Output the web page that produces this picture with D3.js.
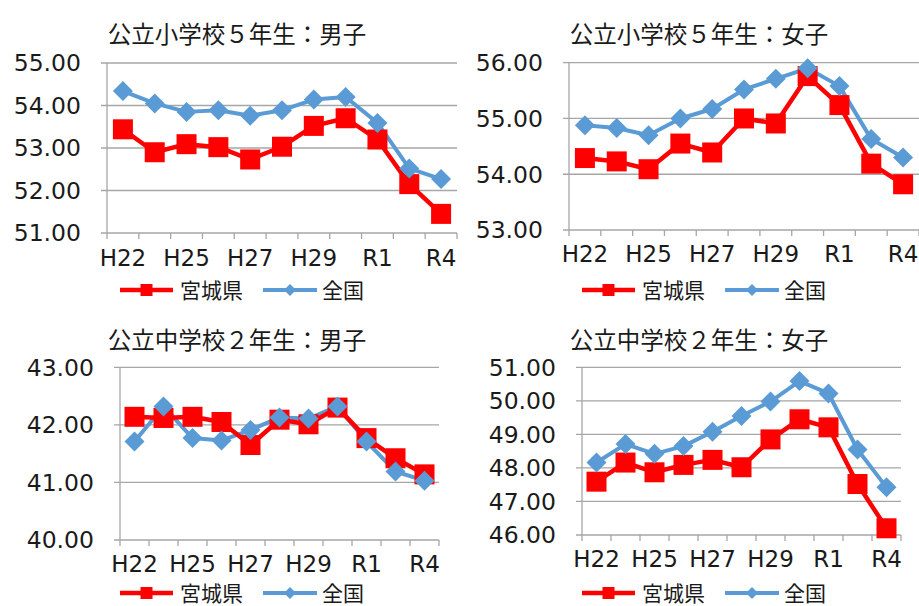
<!DOCTYPE html>
<html><head><meta charset="utf-8">
<script src="https://cdn.jsdelivr.net/npm/d3@7"></script>
<style>
html,body{margin:0;padding:0;background:#fff;}
svg{display:block;}
</style></head>
<body>
<svg id="c" width="919" height="606"></svg>
<script>
const categories = ["H22","H24","H25","H26","H27","H28","H29","H30","R1","R3","R4"];
const tickLabelsShown = ["H22","H25","H27","H29","R1","R4"];
const seriesNames = ["宮城県","全国"];
const titles = ["公立小学校５年生：男子","公立小学校５年生：女子","公立中学校２年生：男子","公立中学校２年生：女子"];

const p1Miyagi = [53.44,52.90,53.09,53.02,52.73,53.03,53.52,53.70,53.20,52.15,51.45];
const p1Zenkoku = [54.34,54.05,53.85,53.89,53.76,53.89,54.14,54.20,53.59,52.52,52.27];
const p2Miyagi = [54.29,54.23,54.09,54.55,54.39,55.00,54.91,55.76,55.24,54.19,53.82];
const p2Zenkoku = [54.88,54.83,54.70,55.00,55.17,55.52,55.71,55.90,55.58,54.63,54.30];
const p3Miyagi = [42.14,42.12,42.14,42.05,41.65,42.09,42.01,42.30,41.77,41.42,41.14];
const p3Zenkoku = [41.71,42.32,41.77,41.73,41.91,42.13,42.11,42.32,41.71,41.19,41.03];
const p4Miyagi = [47.59,48.16,47.87,48.09,48.24,48.02,48.85,49.45,49.21,47.52,46.20];
const p4Zenkoku = [48.16,48.71,48.42,48.65,49.08,49.55,49.98,50.59,50.22,48.55,47.42];

const p1Domain = [51,55], p1Ticks = [51,52,53,54,55];
const p2Domain = [53,56], p2Ticks = [53,54,55,56];
const p3Domain = [40,43], p3Ticks = [40,41,42,43];
const p4Domain = [46,51], p4Ticks = [46,47,48,49,50,51];

const RED = "#FF0000", BLUE = "#5B9BD5", GRID = "#A6A6A6";
const NUMFONT = "'DejaVu Sans', sans-serif";
const JPFONT = "'Noto Sans CJK JP', sans-serif";

const panels = [
  {title:titles[0], miyagi:p1Miyagi, zenkoku:p1Zenkoku, domain:p1Domain, ticks:p1Ticks,
   left:107, right:457, top:63, bottom:233, titleX:237, titleY:43, tickRight:81, xlabY:266, legY:290, legX:120},
  {title:titles[1], miyagi:p2Miyagi, zenkoku:p2Zenkoku, domain:p2Domain, ticks:p2Ticks,
   left:569, right:919, top:62.7, bottom:230, titleX:699, titleY:43, tickRight:543, xlabY:262, legY:290, legX:582},
  {title:titles[2], miyagi:p3Miyagi, zenkoku:p3Zenkoku, domain:p3Domain, ticks:p3Ticks,
   left:120, right:439, top:367.3, bottom:540, titleX:237, titleY:349, tickRight:94, xlabY:572, legY:593, legX:120},
  {title:titles[3], miyagi:p4Miyagi, zenkoku:p4Zenkoku, domain:p4Domain, ticks:p4Ticks,
   left:582, right:901, top:367.3, bottom:535, titleX:699, titleY:349, tickRight:556, xlabY:567, legY:593, legX:582}
];

const svg = d3.select("#c");

panels.forEach(p => {
  const g = svg.append("g");
  const x = d3.scaleBand().domain(categories).range([p.left, p.right]).paddingInner(0).paddingOuter(0);
  const y = d3.scaleLinear().domain(p.domain).range([p.bottom, p.top]);
  const cx = d => x(d) + x.bandwidth()/2;

  g.selectAll("line.grid").data(p.ticks.slice(1)).enter().append("line")
    .attr("x1", p.left - 6).attr("x2", p.right)
    .attr("y1", d => y(d)).attr("y2", d => y(d))
    .attr("stroke", GRID).attr("stroke-width", 1.3);
  g.append("line").attr("x1", p.left).attr("x2", p.left).attr("y1", p.top).attr("y2", p.bottom + 6)
    .attr("stroke", GRID).attr("stroke-width", 1.3);
  g.append("line").attr("x1", p.left - 6).attr("x2", p.right).attr("y1", p.bottom).attr("y2", p.bottom)
    .attr("stroke", GRID).attr("stroke-width", 1.3);
  const bounds = categories.map(c => x(c)).concat([p.right]);
  g.selectAll("line.xt").data(bounds.slice(1)).enter().append("line")
    .attr("x1", d => d).attr("x2", d => d).attr("y1", p.bottom).attr("y2", p.bottom + 6)
    .attr("stroke", GRID).attr("stroke-width", 1.3);

  g.selectAll("text.yl").data(p.ticks).enter().append("text")
    .attr("x", p.tickRight).attr("y", d => y(d)).attr("dy", "0.36em")
    .attr("text-anchor", "end").attr("font-family", NUMFONT).attr("font-size", 23.5)
    .attr("fill", "#1a1a1a").text(d => d.toFixed(2));

  g.selectAll("text.xl").data(tickLabelsShown).enter().append("text")
    .attr("x", d => cx(d)).attr("y", p.xlabY)
    .attr("text-anchor", "middle").attr("font-family", NUMFONT).attr("font-size", 23)
    .attr("fill", "#1a1a1a").text(d => d);

  g.append("text").attr("x", p.titleX).attr("y", p.titleY).attr("text-anchor", "middle")
    .attr("font-family", JPFONT).attr("font-size", 23.5).attr("fill", "#1a1a1a").text(p.title);

  const line = d3.line().x((d,i) => cx(categories[i])).y(d => y(d));

  g.append("path").attr("d", line(p.zenkoku)).attr("fill", "none")
    .attr("stroke", BLUE).attr("stroke-width", 4).attr("stroke-linejoin", "round");
  g.append("path").attr("d", line(p.miyagi)).attr("fill", "none")
    .attr("stroke", RED).attr("stroke-width", 4.5).attr("stroke-linejoin", "round");
  g.selectAll("rect.m").data(p.miyagi).enter().append("rect")
    .attr("x", (d,i) => cx(categories[i]) - 10).attr("y", d => y(d) - 10)
    .attr("width", 20).attr("height", 20).attr("fill", RED);
  const ds = 10;
  g.selectAll("path.z").data(p.zenkoku).enter().append("path")
    .attr("d", (d,i) => { const X = cx(categories[i]), Y = y(d);
      return `M${X},${Y-ds}L${X+ds},${Y}L${X},${Y+ds}L${X-ds},${Y}Z`; })
    .attr("fill", BLUE);

  const ly = p.legY;
  g.append("line").attr("x1", p.legX).attr("x2", p.legX + 53).attr("y1", ly).attr("y2", ly)
    .attr("stroke", RED).attr("stroke-width", 4.5);
  g.append("rect").attr("x", p.legX + 26.5 - 6).attr("y", ly - 6).attr("width", 12).attr("height", 12).attr("fill", RED);
  g.append("text").attr("x", p.legX + 60).attr("y", ly).attr("dy", "0.36em")
    .attr("font-family", JPFONT).attr("font-size", 21).attr("fill", "#1a1a1a").text(seriesNames[0]);
  const bx = p.legX + 143;
  g.append("line").attr("x1", bx).attr("x2", bx + 54).attr("y1", ly).attr("y2", ly)
    .attr("stroke", BLUE).attr("stroke-width", 4);
  g.append("path").attr("d", `M${bx+27},${ly-6}L${bx+33},${ly}L${bx+27},${ly+6}L${bx+21},${ly}Z`).attr("fill", BLUE);
  g.append("text").attr("x", bx + 59).attr("y", ly).attr("dy", "0.36em")
    .attr("font-family", JPFONT).attr("font-size", 21).attr("fill", "#1a1a1a").text(seriesNames[1]);
});
</script>
</body></html>
